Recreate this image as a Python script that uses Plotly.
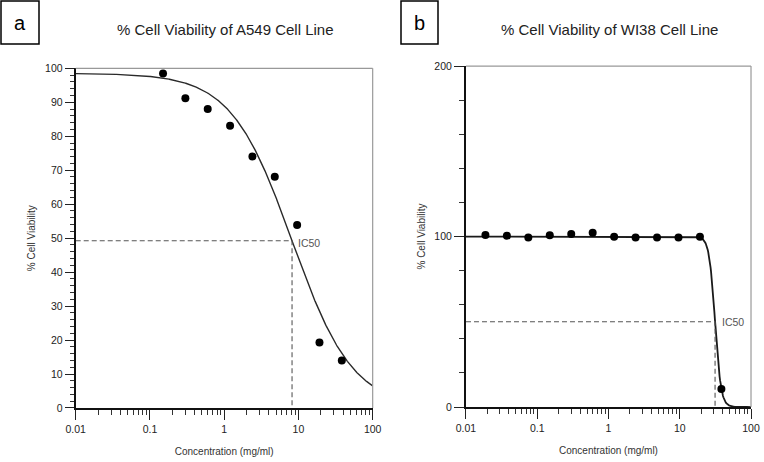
import math
import numpy as np
import plotly.graph_objects as go

# ---- data ----
a_conc = [0.15, 0.3, 0.6, 1.2, 2.4, 4.8, 9.6, 19.2, 38.4]
a_viab = [98.5, 91.2, 88.0, 83.1, 74.0, 68.1, 53.9, 19.3, 14.0]
a_top, a_bottom, a_ic50, a_hill = 98.5, 0.0, 8.2, 1.06

b_conc = [0.01875, 0.0375, 0.075, 0.15, 0.3, 0.6, 1.2, 2.4, 4.8, 9.6, 19.2, 38.4]
b_viab = [100.9, 100.5, 99.5, 100.7, 101.5, 102.2, 99.9, 99.5, 99.5, 99.5, 99.9, 10.6]
b_top, b_bottom, b_ic50, b_hill = 100.0, 0.0, 31.3, 10.4

x_ticks = [0.01, 0.1, 1, 10, 100]
x_ticklabels = ["0.01", "0.1", "1", "10", "100"]
a_yticks = [0, 10, 20, 30, 40, 50, 60, 70, 80, 90, 100]
b_yticks = [0, 100, 200]

titles = ["% Cell Viability of A549 Cell Line", "% Cell Viability of WI38 Cell Line"]
panel_letters = ["a", "b"]


def fit_curve(top, bottom, ic50, hill):
    xs = np.logspace(-2, 2, 600)
    ys = bottom + (top - bottom) / (1 + (xs / ic50) ** hill)
    return xs, ys


FONT = "Liberation Sans, Arial, sans-serif"
fig = go.Figure()

# panel a
xa, ya = fit_curve(a_top, a_bottom, a_ic50, a_hill)
a_mid = (a_top + a_bottom) / 2
fig.add_trace(go.Scatter(x=xa, y=ya, mode="lines", line=dict(color="#2a2a2a", width=1.4),
                         xaxis="x", yaxis="y", hoverinfo="skip"))
fig.add_trace(go.Scatter(x=[0.01, a_ic50, a_ic50], y=[a_mid, a_mid, 0], mode="lines",
                         line=dict(color="#555", width=1.1, dash="5px,3px"), xaxis="x", yaxis="y"))
fig.add_trace(go.Scatter(x=a_conc, y=a_viab, mode="markers",
                         marker=dict(color="black", size=8), xaxis="x", yaxis="y"))

# panel b
xb, yb = fit_curve(b_top, b_bottom, b_ic50, b_hill)
b_mid = (b_top + b_bottom) / 2
fig.add_trace(go.Scatter(x=xb, y=yb, mode="lines", line=dict(color="#1a1a1a", width=1.8),
                         xaxis="x2", yaxis="y2", hoverinfo="skip"))
fig.add_trace(go.Scatter(x=[0.01, b_ic50, b_ic50], y=[b_mid, b_mid, 0], mode="lines",
                         line=dict(color="#555", width=1.1, dash="5px,3px"), xaxis="x2", yaxis="y2"))
fig.add_trace(go.Scatter(x=b_conc, y=b_viab, mode="markers",
                         marker=dict(color="black", size=8), xaxis="x2", yaxis="y2"))

tickfont = dict(family=FONT, size=10.5, color="#222")
titlefont = dict(family=FONT, size=10, color="#333")

common_x = dict(type="log", range=[-2, 2], tickvals=x_ticks, ticktext=x_ticklabels,
                ticks="outside", ticklen=10, tickwidth=1, tickcolor="#222", automargin=False,
                showline=True, linecolor="#111", linewidth=2, showgrid=False, zeroline=False,
                tickfont=tickfont,
                minor=dict(ticks="outside", ticklen=5, tickwidth=1, tickcolor="#333", dtick="D1",
                           showgrid=False),
                title=dict(text="Concentration (mg/ml)", font=titlefont, standoff=14))

fig.update_layout(
    width=764, height=462, margin=dict(l=0, r=0, t=0, b=0),
    paper_bgcolor="white", plot_bgcolor="white", showlegend=False,
    xaxis=dict(domain=[0.0991, 0.4878], anchor="y", **common_x),
    xaxis2=dict(domain=[0.6099, 0.983], anchor="y2", **common_x),
    yaxis=dict(domain=[0.1169, 0.8522], anchor="x", range=[0, 100], tickvals=a_yticks,
               ticks="outside", ticklen=9, tickwidth=1, tickcolor="#222", automargin=False,
               showline=True, linecolor="#111", linewidth=2, showgrid=False, zeroline=False,
               tickfont=tickfont,
               minor=dict(ticks="outside", ticklen=4, tickwidth=1, tickcolor="#333", dtick=2,
                          showgrid=False),
               title=dict(text="% Cell Viability", font=titlefont, standoff=8)),
    yaxis2=dict(domain=[0.119, 0.857], anchor="x2", range=[0, 200], tickvals=b_yticks,
                ticks="outside", ticklen=10, tickwidth=1, tickcolor="#222", automargin=False,
                showline=True, linecolor="#111", linewidth=2, showgrid=False, zeroline=False,
                tickfont=tickfont,
                minor=dict(ticks="outside", ticklen=5, tickwidth=1, tickcolor="#333", dtick=20,
                           showgrid=False),
                title=dict(text="% Cell Viability", font=titlefont, standoff=7)),
)

# thin grey top/right frame
for xr, yr in [("x domain", "y domain"), ("x2 domain", "y2 domain")]:
    fig.add_shape(type="line", xref=xr, yref=yr, x0=0, x1=1, y0=1, y1=1,
                  line=dict(color="#999", width=1.2))
    fig.add_shape(type="line", xref=xr, yref=yr, x0=1, x1=1, y0=0, y1=1,
                  line=dict(color="#999", width=1.2))

# IC50 labels
fig.add_annotation(x=math.log10(a_ic50), y=a_mid, xref="x", yref="y", text="IC50",
                   showarrow=False, xanchor="left", yanchor="middle", xshift=4, yshift=-2,
                   font=dict(family=FONT, size=10.5, color="#555"))
fig.add_annotation(x=math.log10(b_ic50), y=b_mid, xref="x2", yref="y2", text="IC50",
                   showarrow=False, xanchor="left", yanchor="middle", xshift=5, yshift=0,
                   font=dict(family=FONT, size=10.5, color="#555"))

# titles
for cx, t in zip([225 / 764, 609 / 764], titles):
    fig.add_annotation(x=cx, y=1 - 29 / 462, xref="paper", yref="paper", text=t,
                       showarrow=False, xanchor="center", yanchor="middle",
                       font=dict(family=FONT, size=15, color="#222"))

# panel letter boxes
for (x0, x1), letter in zip([(1, 39), (401, 438)], panel_letters):
    fig.add_shape(type="rect", xref="paper", yref="paper",
                  x0=x0 / 764, x1=x1 / 764, y0=1 - 44 / 462, y1=1 - 1 / 462,
                  line=dict(color="black", width=1.5), fillcolor="white")
    fig.add_annotation(x=(x0 + x1) / 2 / 764, y=1 - 23 / 462, xref="paper", yref="paper",
                       text=letter, showarrow=False, xanchor="center", yanchor="middle",
                       font=dict(family="Liberation Sans, Arial, sans-serif", size=20, color="black"))

fig.write_html("out.html", config={"displayModeBar": False},
               post_script="document.body.style.margin='0';document.body.style.overflow='hidden';")
